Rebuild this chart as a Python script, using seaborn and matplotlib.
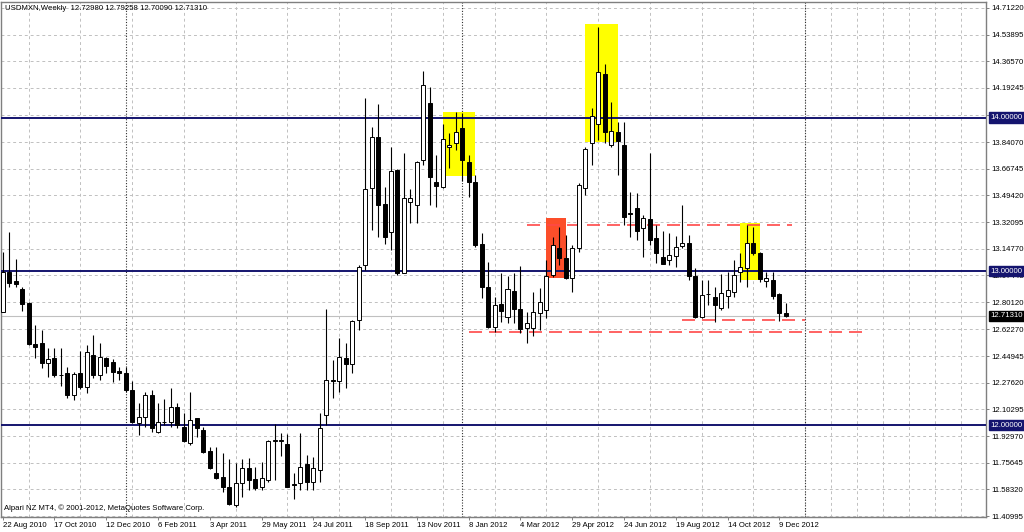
import numpy as np
import pandas as pd
import seaborn as sns
import matplotlib.pyplot as plt
from matplotlib.transforms import blended_transform_factory

# weekly USDMXN candles, first bar = week of 22 Aug 2010
start = '2010-08-22'
opens = [12.738, 12.999, 12.938, 12.884, 12.793, 12.531, 12.537, 12.403, 12.436, 12.330,
         12.338, 12.194, 12.341, 12.250, 12.457, 12.327, 12.440, 12.414, 12.353, 12.338,
         12.229, 12.013, 12.056, 12.197, 11.959, 12.020, 12.024, 12.117, 11.991, 11.887,
         12.046, 11.970, 11.835, 11.688, 11.662, 11.600, 11.483, 11.622, 11.721, 11.652,
         11.600, 11.645, 11.900, 11.900, 11.879, 11.617, 11.622, 11.747, 11.633, 11.709,
         12.067, 12.295, 12.288, 12.436, 12.399, 12.685, 13.042, 13.541, 13.876, 13.438,
         13.259, 13.660, 12.992, 13.454, 13.432, 13.724, 14.097, 13.578, 13.550, 13.806,
         13.836, 13.933, 13.714, 13.584, 13.179, 12.901, 12.641, 12.789, 12.702, 12.875,
         12.754, 12.631, 12.635, 12.728, 12.750, 12.977, 13.151, 13.090, 12.960, 13.151,
         13.541, 13.834, 13.956, 14.282, 13.821, 13.904, 13.821, 13.378, 13.415, 13.281,
         13.341, 13.216, 13.096, 13.075, 13.101, 13.166, 13.183, 12.971, 12.704, 12.850,
         12.832, 12.761, 12.840, 12.869, 12.999, 13.021, 13.183, 13.118, 12.940, 12.945,
         12.854, 12.72980]
highs = [13.128, 13.259, 13.079, 12.901, 12.804, 12.652, 12.620, 12.505, 12.501, 12.505,
         12.377, 12.346, 12.485, 12.522, 12.587, 12.533, 12.446, 12.429, 12.380, 12.380,
         12.290, 12.143, 12.219, 12.230, 12.143, 12.169, 12.240, 12.143, 12.078, 12.219,
         12.050, 11.991, 11.857, 11.857, 11.818, 11.779, 11.753, 11.779, 11.786, 11.731,
         11.760, 11.905, 12.010, 11.952, 11.945, 11.688, 11.952, 11.806, 11.791, 12.078,
         12.754, 12.425, 12.566, 12.533, 12.685, 13.042, 14.126, 13.941, 14.088, 13.550,
         13.809, 13.665, 13.767, 13.534, 13.715, 14.300, 14.200, 13.757, 13.960, 13.897,
         14.038, 14.027, 13.757, 13.627, 13.248, 13.064, 12.836, 12.992, 12.971, 12.988,
         13.036, 12.739, 12.865, 12.891, 13.075, 13.226, 13.291, 13.237, 13.172, 13.573,
         13.809, 14.062, 14.591, 14.347, 14.100, 13.973, 13.973, 13.519, 13.508, 13.367,
         13.768, 13.300, 13.265, 13.248, 13.231, 13.432, 13.237, 13.021, 12.945, 12.945,
         12.900, 12.984, 12.999, 13.075, 13.118, 13.302, 13.291, 13.129, 12.999, 12.997,
         12.858, 12.79258]
lows = [12.735, 12.901, 12.897, 12.745, 12.522, 12.436, 12.370, 12.317, 12.317, 12.258,
        12.176, 12.164, 12.234, 12.208, 12.305, 12.294, 12.340, 12.284, 12.294, 12.219,
        12.013, 11.937, 11.991, 11.959, 11.952, 12.000, 11.991, 11.985, 11.894, 11.872,
        11.926, 11.823, 11.714, 11.650, 11.568, 11.483, 11.472, 11.535, 11.580, 11.580,
        11.580, 11.634, 11.647, 11.800, 11.597, 11.523, 11.580, 11.580, 11.580, 11.633,
        12.002, 12.176, 12.219, 12.240, 12.338, 12.620, 13.010, 13.270, 13.226, 13.179,
        13.140, 12.977, 12.988, 13.313, 13.313, 13.692, 13.432, 13.420, 13.540, 13.670,
        13.789, 13.588, 13.485, 13.161, 12.826, 12.633, 12.609, 12.674, 12.663, 12.663,
        12.600, 12.533, 12.580, 12.620, 12.696, 12.966, 13.042, 12.950, 12.869, 13.129,
        13.497, 13.692, 13.855, 13.832, 13.810, 13.627, 13.302, 13.226, 13.204, 13.096,
        13.172, 13.053, 13.045, 13.042, 13.031, 13.151, 12.945, 12.696, 12.696, 12.780,
        12.669, 12.750, 12.761, 12.836, 12.934, 12.900, 13.107, 12.934, 12.901, 12.819,
        12.675, 12.70090]
closes = [12.998, 12.923, 12.917, 12.787, 12.529, 12.511, 12.403, 12.429, 12.326, 12.326,
          12.196, 12.334, 12.250, 12.479, 12.327, 12.445, 12.388, 12.349, 12.342, 12.229,
          12.024, 12.056, 12.197, 11.980, 12.024, 12.024, 12.117, 12.002, 11.899, 12.035,
          11.985, 11.829, 11.720, 11.656, 11.600, 11.489, 11.627, 11.721, 11.646, 11.594,
          11.659, 11.900, 11.902, 11.902, 11.601, 11.615, 11.731, 11.633, 11.721, 11.980,
          12.295, 12.288, 12.446, 12.399, 12.680, 13.031, 13.534, 13.872, 13.432, 13.226,
          13.655, 12.988, 13.476, 13.476, 13.714, 14.212, 13.615, 13.556, 13.858, 13.821,
          13.908, 13.724, 13.578, 13.172, 12.901, 12.641, 12.782, 12.745, 12.884, 12.754,
          12.624, 12.663, 12.737, 12.800, 12.971, 13.172, 13.090, 12.956, 13.155, 13.562,
          13.795, 14.010, 14.294, 13.904, 13.912, 13.847, 13.356, 13.376, 13.263, 13.350,
          13.204, 13.118, 13.049, 13.107, 13.161, 13.183, 12.971, 12.702, 12.847, 12.856,
          12.782, 12.858, 12.880, 12.977, 13.029, 13.187, 13.118, 12.951, 12.956, 12.841,
          12.727, 12.71310]

levels = [12.0, 13.0, 14.0]

# red dashed lines: from week, to week, price
red_from = [81, 72, 105]
red_to = [122, 133, 124]
red_price = [13.302, 12.609, 12.683]

# highlight boxes
yellow_from = [68, 90, 114]
yellow_to = [73, 95, 117]
yellow_lo = [13.622, 13.843, 12.945]
yellow_hi = [14.038, 14.609, 13.313]
red_box_from = [84]
red_box_to = [87]
red_box_lo = [12.956]
red_box_hi = [13.346]

ytick_labels = ['11.40995', '11.58320', '11.75645', '11.92970', '12.10295', '12.27620',
                '12.44945', '12.62270', '12.80120', '12.97445', '13.14770', '13.32095',
                '13.49420', '13.66745', '13.84070', '14.01920', '14.19245', '14.36570',
                '14.53895', '14.71220']
separators = [19, 71, 124]

dates = pd.date_range(start, periods=len(opens), freq='7D')
df = pd.DataFrame({'week': np.arange(len(opens)), 'open': opens, 'high': highs,
                   'low': lows, 'close': closes})
df['up'] = df['close'] >= df['open']

sns.set_theme(style='white')
plt.rcParams['font.family'] = ['Liberation Sans', 'DejaVu Sans']
fs = 5.6

fig = plt.figure(figsize=(10.24, 5.32), dpi=100)
ax = fig.add_axes([0.00146, 0.02763, 0.9614, 0.9695])
ax.set_xlim(-0.185, 151.93)
ax.set_ylim(11.402, 14.754)

grid_kw = dict(color='#c0c0c0', lw=0.7, linestyle=(0, (3, 3)))
ax.set_yticks([float(t) for t in ytick_labels])
ax.set_yticklabels(ytick_labels)
ax.set_xticks(np.arange(0, len(opens), 8))
ax.set_xticklabels([f"{d.day} {d.strftime('%b %Y')}" for d in dates[::8]])
ax.set_xticks(np.arange(0, 152, 4), minor=True)
ax.grid(True, axis='y', which='major', **grid_kw)
ax.grid(True, axis='x', which='minor', **grid_kw)
ax.set_axisbelow(True)

ax.yaxis.tick_right()
ax.tick_params(axis='y', length=2.2, width=0.7, color='#808080', pad=1.5,
               labelsize=fs, labelcolor='black')
ax.tick_params(axis='x', which='major', length=2.2, width=0.7, color='#808080',
               pad=1.5, labelsize=fs, labelcolor='black', bottom=True)
ax.tick_params(axis='x', which='minor', length=0)
for lbl in ax.get_xticklabels():
    lbl.set_horizontalalignment('left')
for sp in ax.spines.values():
    sp.set_color('#7f7f7f')
    sp.set_linewidth(1.0)

for s in separators:
    ax.axvline(s, color='#303030', lw=0.8, linestyle=(0, (1, 1.5)), zorder=1.5)

for x0, x1, lo, hi in zip(yellow_from, yellow_to, yellow_lo, yellow_hi):
    ax.fill_between([x0, x1], lo, hi, color='#ffff00', lw=0, zorder=2)
for x0, x1, lo, hi in zip(red_box_from, red_box_to, red_box_lo, red_box_hi):
    ax.fill_between([x0, x1], lo, hi, color='#fc4e2a', lw=0, zorder=2)

ax.axhline(closes[-1], color='#c0c0c0', lw=0.8, zorder=2.2)
for lv in levels:
    ax.axhline(lv, color='#14146e', lw=1.4, zorder=3)
for x0, x1, p in zip(red_from, red_to, red_price):
    ax.plot([x0, x1], [p, p], color='#ff4848', lw=1.2, dashes=(7.8, 4.2), zorder=3.2)

# candles
ax.vlines(df['week'], df['low'], df['high'], color='black', lw=0.8, zorder=4)
ax.bar(df['week'], (df['close'] - df['open']).abs(),
       bottom=df[['open', 'close']].min(axis=1), width=0.62,
       color=np.where(df['up'], 'white', 'black'), edgecolor='black',
       linewidth=0.7, zorder=5)

trans = blended_transform_factory(ax.transAxes, ax.transData)
for lv in levels:
    ax.text(1.0045, lv, f'{lv:.5f}', transform=trans, ha='left', va='center',
            fontsize=fs, color='white', clip_on=False, zorder=10,
            bbox=dict(boxstyle='square,pad=0.2', fc='#14146e', ec='#14146e'))
ax.text(1.0045, closes[-1], f'{closes[-1]:.5f}', transform=trans, ha='left',
        va='center', fontsize=fs, color='white', clip_on=False, zorder=10,
        bbox=dict(boxstyle='square,pad=0.2', fc='black', ec='black'))

ax.text(0.0036, 0.987,
        f'USDMXN,Weekly  {opens[-1]:.5f} {highs[-1]:.5f} {lows[-1]:.5f} {closes[-1]:.5f}',
        transform=ax.transAxes, ha='left', va='center', fontsize=fs, color='black',
        zorder=10)
ax.text(0.0026, 0.018, 'Alpari NZ MT4, \u00a9 2001-2012, MetaQuotes Software Corp.',
        transform=ax.transAxes, ha='left', va='center', fontsize=fs, color='black',
        zorder=10)

fig.savefig('out.png', dpi=100, facecolor='white')
